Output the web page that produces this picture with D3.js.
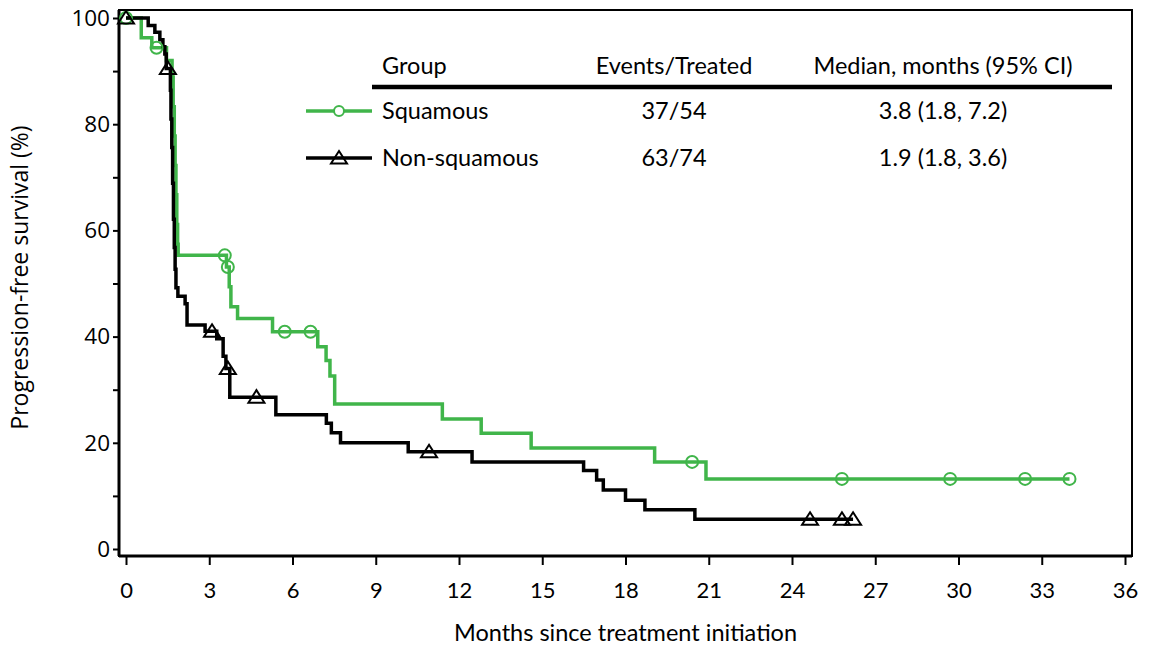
<!DOCTYPE html>
<html>
<head>
<meta charset="utf-8">
<script src="https://cdn.jsdelivr.net/npm/d3@7"></script>
<style>
  body { margin: 0; background: #fff; }
  svg { display: block; }
</style>
</head>
<body>
<svg id="chart" width="1152" height="648"></svg>
<script>
// Kaplan-Meier style progression-free survival curves

// Squamous group: step times (months) and survival (%)
const sqTime = [0, 0.55, 0.93, 1.46, 1.66, 1.7, 1.74, 1.77, 1.8, 1.83, 1.86, 1.88, 3.62, 3.72, 3.78, 4.02, 5.28, 6.91, 7.21, 7.35, 7.52, 11.4, 12.8, 14.6, 19.05, 20.9, 34.0];
const sqSurv = [100, 96.3, 94.4, 92.0, 88.9, 83.3, 77.8, 72.2, 66.7, 61.1, 57.4, 55.3, 53.1, 49.4, 45.6, 43.4, 40.9, 38.1, 35.5, 32.6, 27.3, 24.5, 21.8, 19.0, 16.4, 13.2, 13.2];
const sqCensor = [0, 1.1, 3.56, 3.67, 5.72, 6.65, 20.4, 25.8, 29.7, 32.4, 34.0];

// Non-squamous group
const nsTime = [0, 0.8, 1.04, 1.22, 1.33, 1.4, 1.45, 1.6, 1.62, 1.65, 1.68, 1.71, 1.74, 1.77, 1.8, 1.87, 2.13, 2.2, 2.85, 3.27, 3.5, 3.6, 3.74, 5.4, 7.22, 7.4, 7.73, 10.17, 12.47, 16.49, 16.96, 17.2, 18.0, 18.7, 20.5, 26.2];
const nsSurv = [100, 98.6, 97.3, 95.9, 94.6, 93.2, 90.5, 86.4, 81.0, 75.6, 68.9, 62.1, 56.8, 52.7, 49.2, 47.6, 46.2, 42.2, 41.0, 39.6, 36.3, 34.0, 28.6, 25.3, 23.7, 21.9, 20.0, 18.3, 16.4, 14.8, 13.0, 11.1, 9.2, 7.4, 5.6, 5.6];
const nsCensor = [0, 1.51, 3.1, 3.67, 4.7, 10.92, 24.65, 25.8, 26.2];

// Axis ticks
const xTicks = d3.range(0, 37, 3);
const yTicks = d3.range(0, 101, 10);
const yLabels = [0, 20, 40, 60, 80, 100];

// Legend table
const groups = ["Squamous", "Non-squamous"];
const eventsTreated = ["37/54", "63/74"];
const medians = ["3.8 (1.8, 7.2)", "1.9 (1.8, 3.6)"];
const headers = ["Group", "Events/Treated", "Median, months (95% CI)"];

const green = "#40b54a";
const narrow = "Lato, 'Open Sans', sans-serif";
const wide = "'Open Sans', 'Noto Sans', sans-serif";

const svg = d3.select("#chart");

let x = d3.scaleLinear().domain([0, 36]).range([126, 1125]);
let y = d3.scaleLinear().domain([0, 100]).range([549, 18]);

// Frame
const frame = { left: 119, right: 1132, top: 10, bottom: 556 };
svg.append("rect")
	.attr("x", frame.left).attr("y", frame.top)
	.attr("width", frame.right - frame.left)
	.attr("height", frame.bottom - frame.top)
	.attr("fill", "none").attr("stroke", "#000").attr("stroke-width", 2);
svg.append("line") // heavier bottom + left edges
	.attr("x1", frame.left).attr("x2", frame.right)
	.attr("y1", frame.bottom).attr("y2", frame.bottom)
	.attr("stroke", "#000").attr("stroke-width", 3);
svg.append("line")
	.attr("x1", frame.left).attr("x2", frame.left)
	.attr("y1", frame.top).attr("y2", frame.bottom)
	.attr("stroke", "#000").attr("stroke-width", 3);

// X axis
let xAxis = svg.append("g")
	.attr("transform", "translate(0," + frame.bottom + ")")
	.call(d3.axisBottom(x).tickValues(xTicks).tickSize(9).tickPadding(17));
xAxis.select(".domain").remove();
xAxis.selectAll(".tick line").attr("stroke-width", 2);
xAxis.selectAll("text")
	.style("font-family", narrow).style("font-size", "22px").attr("fill", "#000");

// Y axis
let yAxis = svg.append("g")
	.attr("transform", "translate(" + frame.left + ",0)")
	.call(d3.axisLeft(y).tickValues(yTicks).tickSize(6).tickPadding(3)
		.tickFormat(d => yLabels.includes(d) ? d : ""));
yAxis.select(".domain").remove();
yAxis.selectAll(".tick line").attr("stroke-width", 2);
yAxis.selectAll("text")
	.style("font-family", wide).style("font-size", "22.5px").attr("fill", "#000");

// Axis titles
svg.append("text")
	.attr("x", (x(0) + x(36)) / 2).attr("y", 641)
	.attr("text-anchor", "middle")
	.style("font-family", narrow).style("font-size", "23.5px")
	.text("Months since treatment initiation");
svg.append("text")
	.attr("transform", "translate(28," + ((y(0) + y(100)) / 2 - 6) + ") rotate(-90)")
	.attr("text-anchor", "middle")
	.style("font-family", wide).style("font-size", "23px")
	.text("Progression-free survival (%)");

// Step curves
let stepLine = d3.line()
	.x(d => x(d[0]))
	.y(d => y(d[1]))
	.curve(d3.curveStepAfter);

// survival value at time t for a step curve
let survAt = (times, surv, t) => {
	let i = d3.bisectRight(times, t) - 1;
	return surv[Math.max(0, i)];
};

let triPath = "M0,-7L8,5.5L-8,5.5Z";

let drawCurve = (times, surv, color) => svg.append("path")
	.datum(times.map((t, i) => [t, surv[i]]))
	.attr("d", stepLine)
	.attr("fill", "none")
	.attr("stroke", color)
	.attr("stroke-width", 3.5)
	.attr("stroke-linejoin", "miter");

drawCurve(sqTime, sqSurv, green);
drawCurve(nsTime, nsSurv, "#000");

// Censor marks
svg.append("g").selectAll("circle")
	.data(sqCensor)
	.enter().append("circle")
	.attr("cx", d => x(d))
	.attr("cy", d => y(survAt(sqTime, sqSurv, d)))
	.attr("r", 6)
	.attr("fill", "none")
	.attr("stroke", green)
	.attr("stroke-width", 2);

svg.append("g").selectAll("path")
	.data(nsCensor)
	.enter().append("path")
	.attr("d", triPath)
	.attr("transform", d => "translate(" + x(d) + "," + y(survAt(nsTime, nsSurv, d)) + ")")
	.attr("fill", "none")
	.attr("stroke", "#000")
	.attr("stroke-width", 2);

// Legend table
const colX = [382, 674, 943];
let legend = svg.append("g")
	.style("font-family", narrow).style("font-size", "23.5px");

legend.selectAll(".hdr")
	.data(headers)
	.enter().append("text")
	.attr("class", "hdr")
	.attr("x", (d, i) => colX[i])
	.attr("y", 74)
	.attr("text-anchor", (d, i) => i == 0 ? "start" : "middle")
	.text(d => d);

legend.append("line")
	.attr("x1", 372).attr("x2", 1112)
	.attr("y1", 87).attr("y2", 87)
	.attr("stroke", "#000").attr("stroke-width", 4.5);

const rowY = [111, 158];
const rowColor = [green, "#000"];
groups.forEach((g, i) => {
	let row = legend.append("g").attr("transform", "translate(0," + rowY[i] + ")");
	row.append("line")
		.attr("x1", 306).attr("x2", 372)
		.attr("stroke", rowColor[i]).attr("stroke-width", 3.5);
	if (i == 0) {
		row.append("circle").attr("cx", 339).attr("r", 5)
			.attr("fill", "#fff").attr("stroke", green).attr("stroke-width", 2);
	} else {
		row.append("path").attr("d", triPath)
			.attr("transform", "translate(339,0)")
			.attr("fill", "none").attr("stroke", "#000").attr("stroke-width", 2);
	}
	row.append("text").attr("x", colX[0]).attr("y", 8).text(g);
	row.append("text").attr("x", colX[1]).attr("y", 8).attr("text-anchor", "middle").text(eventsTreated[i]);
	row.append("text").attr("x", colX[2]).attr("y", 8).attr("text-anchor", "middle").text(medians[i]);
});
</script>
</body>
</html>
